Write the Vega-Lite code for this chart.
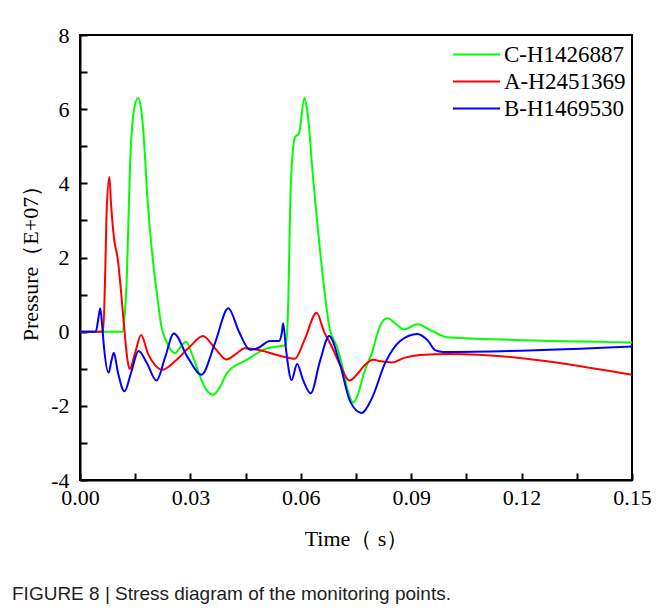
{
  "$schema": "https://vega.github.io/schema/vega-lite/v6.json",
  "autosize": "none",
  "width": 552,
  "height": 445,
  "padding": {"left": 80, "top": 35, "right": 33, "bottom": 128},
  "background": "white",
  "config": {
    "view": {"stroke": "black", "strokeWidth": 2},
    "axis": {
      "grid": false,
      "domainColor": "black",
      "domainWidth": 2,
      "tickColor": "black",
      "tickWidth": 2,
      "labelColor": "black",
      "titleColor": "black",
      "labelFont": "Liberation Serif",
      "titleFont": "Liberation Serif",
      "labelFontSize": 22,
      "titleFontSize": 22,
      "titleFontWeight": "normal"
    }
  },
  "title": {
    "text": "FIGURE 8 | Stress diagram of the monitoring points.",
    "orient": "bottom",
    "anchor": "start",
    "frame": "group",
    "dx": -68,
    "offset": 36,
    "font": "Liberation Sans",
    "fontSize": 19,
    "fontWeight": "normal",
    "color": "#222222"
  },
  "data": {
    "values": [
      {"series": "C-H1426887", "t": 0, "p": 0},
      {"series": "C-H1426887", "t": 0.0115, "p": 0},
      {"series": "C-H1426887", "t": 0.0121, "p": 0.4},
      {"series": "C-H1426887", "t": 0.0127, "p": 1.39},
      {"series": "C-H1426887", "t": 0.0136, "p": 4.5},
      {"series": "C-H1426887", "t": 0.0147, "p": 6.0},
      {"series": "C-H1426887", "t": 0.0158, "p": 6.3},
      {"series": "C-H1426887", "t": 0.0166, "p": 6.0},
      {"series": "C-H1426887", "t": 0.0172, "p": 5.42},
      {"series": "C-H1426887", "t": 0.0183, "p": 3.63},
      {"series": "C-H1426887", "t": 0.0199, "p": 1.84},
      {"series": "C-H1426887", "t": 0.0209, "p": 1.03},
      {"series": "C-H1426887", "t": 0.0221, "p": 0.15},
      {"series": "C-H1426887", "t": 0.0234, "p": -0.25},
      {"series": "C-H1426887", "t": 0.0258, "p": -0.58},
      {"series": "C-H1426887", "t": 0.0274, "p": -0.4},
      {"series": "C-H1426887", "t": 0.0288, "p": -0.27},
      {"series": "C-H1426887", "t": 0.0304, "p": -0.6},
      {"series": "C-H1426887", "t": 0.0326, "p": -1.2},
      {"series": "C-H1426887", "t": 0.0342, "p": -1.55},
      {"series": "C-H1426887", "t": 0.0362, "p": -1.7},
      {"series": "C-H1426887", "t": 0.038, "p": -1.5},
      {"series": "C-H1426887", "t": 0.0399, "p": -1.12},
      {"series": "C-H1426887", "t": 0.0453, "p": -0.76},
      {"series": "C-H1426887", "t": 0.0507, "p": -0.45},
      {"series": "C-H1426887", "t": 0.056, "p": -0.36},
      {"series": "C-H1426887", "t": 0.0565, "p": 0.5},
      {"series": "C-H1426887", "t": 0.0573, "p": 4.0},
      {"series": "C-H1426887", "t": 0.0584, "p": 5.24},
      {"series": "C-H1426887", "t": 0.0595, "p": 5.35},
      {"series": "C-H1426887", "t": 0.061, "p": 6.3},
      {"series": "C-H1426887", "t": 0.0617, "p": 6.0},
      {"series": "C-H1426887", "t": 0.0634, "p": 4.08},
      {"series": "C-H1426887", "t": 0.0661, "p": 1.39},
      {"series": "C-H1426887", "t": 0.0679, "p": 0.05},
      {"series": "C-H1426887", "t": 0.0698, "p": -0.4},
      {"series": "C-H1426887", "t": 0.0712, "p": -0.9},
      {"series": "C-H1426887", "t": 0.0728, "p": -1.6},
      {"series": "C-H1426887", "t": 0.0743, "p": -1.91},
      {"series": "C-H1426887", "t": 0.0755, "p": -1.7},
      {"series": "C-H1426887", "t": 0.0772, "p": -1.1},
      {"series": "C-H1426887", "t": 0.0793, "p": -0.58},
      {"series": "C-H1426887", "t": 0.0815, "p": 0.15},
      {"series": "C-H1426887", "t": 0.0835, "p": 0.36},
      {"series": "C-H1426887", "t": 0.0859, "p": 0.2},
      {"series": "C-H1426887", "t": 0.088, "p": 0.06},
      {"series": "C-H1426887", "t": 0.0917, "p": 0.2},
      {"series": "C-H1426887", "t": 0.0951, "p": 0.05},
      {"series": "C-H1426887", "t": 0.0997, "p": -0.15},
      {"series": "C-H1426887", "t": 0.15, "p": -0.29},

      {"series": "A-H2451369", "t": 0, "p": 0},
      {"series": "A-H2451369", "t": 0.0063, "p": 0},
      {"series": "A-H2451369", "t": 0.0068, "p": 1.39},
      {"series": "A-H2451369", "t": 0.0073, "p": 3.4},
      {"series": "A-H2451369", "t": 0.008, "p": 4.17},
      {"series": "A-H2451369", "t": 0.0084, "p": 3.5},
      {"series": "A-H2451369", "t": 0.0092, "p": 2.55},
      {"series": "A-H2451369", "t": 0.0103, "p": 1.93},
      {"series": "A-H2451369", "t": 0.0112, "p": 1.03},
      {"series": "A-H2451369", "t": 0.0121, "p": 0.0},
      {"series": "A-H2451369", "t": 0.0129, "p": -0.76},
      {"series": "A-H2451369", "t": 0.0135, "p": -1.01},
      {"series": "A-H2451369", "t": 0.0149, "p": -0.6},
      {"series": "A-H2451369", "t": 0.0166, "p": -0.09},
      {"series": "A-H2451369", "t": 0.0185, "p": -0.6},
      {"series": "A-H2451369", "t": 0.0204, "p": -0.9},
      {"series": "A-H2451369", "t": 0.0223, "p": -1.03},
      {"series": "A-H2451369", "t": 0.0258, "p": -0.8},
      {"series": "A-H2451369", "t": 0.0299, "p": -0.4},
      {"series": "A-H2451369", "t": 0.0334, "p": -0.12},
      {"series": "A-H2451369", "t": 0.0367, "p": -0.45},
      {"series": "A-H2451369", "t": 0.0398, "p": -0.75},
      {"series": "A-H2451369", "t": 0.0424, "p": -0.6},
      {"series": "A-H2451369", "t": 0.0448, "p": -0.45},
      {"series": "A-H2451369", "t": 0.0489, "p": -0.5},
      {"series": "A-H2451369", "t": 0.0543, "p": -0.65},
      {"series": "A-H2451369", "t": 0.0584, "p": -0.73},
      {"series": "A-H2451369", "t": 0.0611, "p": -0.2},
      {"series": "A-H2451369", "t": 0.0643, "p": 0.51},
      {"series": "A-H2451369", "t": 0.0663, "p": 0.0},
      {"series": "A-H2451369", "t": 0.0684, "p": -0.4},
      {"series": "A-H2451369", "t": 0.0707, "p": -0.9},
      {"series": "A-H2451369", "t": 0.0732, "p": -1.32},
      {"series": "A-H2451369", "t": 0.0753, "p": -1.15},
      {"series": "A-H2451369", "t": 0.0774, "p": -0.9},
      {"series": "A-H2451369", "t": 0.0797, "p": -0.76},
      {"series": "A-H2451369", "t": 0.0818, "p": -0.8},
      {"series": "A-H2451369", "t": 0.0847, "p": -0.83},
      {"series": "A-H2451369", "t": 0.0883, "p": -0.7},
      {"series": "A-H2451369", "t": 0.0924, "p": -0.63},
      {"series": "A-H2451369", "t": 0.1005, "p": -0.6},
      {"series": "A-H2451369", "t": 0.15, "p": -1.16},

      {"series": "B-H1469530", "t": 0, "p": 0},
      {"series": "B-H1469530", "t": 0.0043, "p": 0},
      {"series": "B-H1469530", "t": 0.0049, "p": 0.3},
      {"series": "B-H1469530", "t": 0.0055, "p": 0.63},
      {"series": "B-H1469530", "t": 0.006, "p": 0.2},
      {"series": "B-H1469530", "t": 0.0065, "p": -0.4},
      {"series": "B-H1469530", "t": 0.0078, "p": -1.11},
      {"series": "B-H1469530", "t": 0.0085, "p": -0.8},
      {"series": "B-H1469530", "t": 0.0092, "p": -0.57},
      {"series": "B-H1469530", "t": 0.0103, "p": -1.1},
      {"series": "B-H1469530", "t": 0.0121, "p": -1.61},
      {"series": "B-H1469530", "t": 0.0139, "p": -1.1},
      {"series": "B-H1469530", "t": 0.0159, "p": -0.52},
      {"series": "B-H1469530", "t": 0.0182, "p": -0.85},
      {"series": "B-H1469530", "t": 0.0208, "p": -1.32},
      {"series": "B-H1469530", "t": 0.0231, "p": -0.7},
      {"series": "B-H1469530", "t": 0.0255, "p": -0.05},
      {"series": "B-H1469530", "t": 0.0293, "p": -0.7},
      {"series": "B-H1469530", "t": 0.033, "p": -1.16},
      {"series": "B-H1469530", "t": 0.0367, "p": -0.3},
      {"series": "B-H1469530", "t": 0.0403, "p": 0.63},
      {"series": "B-H1469530", "t": 0.0432, "p": 0.0},
      {"series": "B-H1469530", "t": 0.0462, "p": -0.49},
      {"series": "B-H1469530", "t": 0.0484, "p": -0.44},
      {"series": "B-H1469530", "t": 0.0516, "p": -0.25},
      {"series": "B-H1469530", "t": 0.0541, "p": -0.25},
      {"series": "B-H1469530", "t": 0.0548, "p": -0.05},
      {"series": "B-H1469530", "t": 0.0552, "p": 0.23},
      {"series": "B-H1469530", "t": 0.056, "p": -0.5},
      {"series": "B-H1469530", "t": 0.0575, "p": -1.3},
      {"series": "B-H1469530", "t": 0.059, "p": -0.87},
      {"series": "B-H1469530", "t": 0.0606, "p": -1.3},
      {"series": "B-H1469530", "t": 0.0627, "p": -1.66},
      {"series": "B-H1469530", "t": 0.0652, "p": -0.8},
      {"series": "B-H1469530", "t": 0.0677, "p": -0.12},
      {"series": "B-H1469530", "t": 0.0707, "p": -0.9},
      {"series": "B-H1469530", "t": 0.0734, "p": -1.88},
      {"series": "B-H1469530", "t": 0.0765, "p": -2.19},
      {"series": "B-H1469530", "t": 0.0793, "p": -1.8},
      {"series": "B-H1469530", "t": 0.0829, "p": -0.85},
      {"series": "B-H1469530", "t": 0.087, "p": -0.25},
      {"series": "B-H1469530", "t": 0.0917, "p": -0.06},
      {"series": "B-H1469530", "t": 0.0946, "p": -0.25},
      {"series": "B-H1469530", "t": 0.0965, "p": -0.5},
      {"series": "B-H1469530", "t": 0.0987, "p": -0.55},
      {"series": "B-H1469530", "t": 0.15, "p": -0.4}
    ]
  },
  "mark": {"type": "line", "interpolate": "monotone", "strokeWidth": 2, "clip": true},
  "encoding": {
    "x": {
      "field": "t",
      "type": "quantitative",
      "scale": {"domain": [0, 0.15], "nice": false, "zero": false},
      "axis": {
        "title": "Time（ s）",
        "values": [0, 0.015, 0.03, 0.045, 0.06, 0.075, 0.09, 0.105, 0.12, 0.135, 0.15],
        "labelExpr": "round(datum.value * 1000) % 30 == 0 ? format(datum.value, '.2f') : ''",
        "tickSize": -7,
        "labelPadding": 14,
        "titlePadding": 20,
        "labelFlush": false,
        "labelOverlap": false
      }
    },
    "y": {
      "field": "p",
      "type": "quantitative",
      "scale": {"domain": [-4, 8], "nice": false, "zero": false},
      "axis": {
        "title": "Pressure（E+07）",
        "values": [-4, -3, -2, -1, 0, 1, 2, 3, 4, 5, 6, 7, 8],
        "labelExpr": "datum.value % 2 == 0 ? '' + datum.value : ''",
        "tickSize": -7,
        "labelPadding": 18,
        "titlePadding": 8,
        "labelFlush": false,
        "labelOverlap": false
      }
    },
    "color": {
      "field": "series",
      "type": "nominal",
      "sort": ["C-H1426887", "A-H2451369", "B-H1469530"],
      "scale": {"domain": ["C-H1426887", "A-H2451369", "B-H1469530"], "range": ["#00ff00", "#ff0000", "#0000ff"]},
      "legend": {
        "title": null,
        "orient": "none",
        "legendX": 382,
        "legendY": 5,
        "symbolType": "M-1.75,0H1.75",
        "symbolSize": 729,
        "symbolStrokeWidth": 2,
        "labelFont": "Liberation Serif",
        "labelFontSize": 23,
        "labelColor": "black",
        "labelOffset": 13,
        "rowPadding": 0,
        "padding": 0
      }
    }
  }
}
